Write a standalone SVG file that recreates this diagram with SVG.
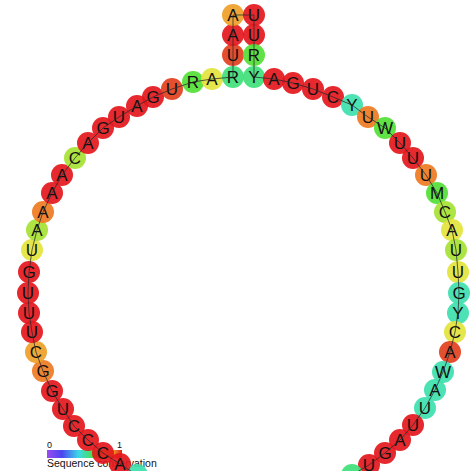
<svg xmlns="http://www.w3.org/2000/svg" width="475" height="471" viewBox="0 0 475 471">
<defs>
<linearGradient id="cons" x1="0" y1="0" x2="1" y2="0">
<stop offset="0" stop-color="#9a4cf0"/>
<stop offset="0.2" stop-color="#4a46f0"/>
<stop offset="0.42" stop-color="#3cd8e8"/>
<stop offset="0.62" stop-color="#46e046"/>
<stop offset="0.78" stop-color="#d8e030"/>
<stop offset="0.9" stop-color="#f08a24"/>
<stop offset="1" stop-color="#e41a1a"/>
</linearGradient>
</defs>
<style>
circle{stroke:none;fill-opacity:0.92}
.r{fill:#e3171c}.ro{fill:#e2401e}.o{fill:#ee7a22}.oy{fill:#eea028}.y{fill:#e2e43c}.yg{fill:#a6e234}.g{fill:#52e036}.gc{fill:#40e07a}.c{fill:#3ee0ac}
text.l{font-family:"Liberation Sans",Arial,sans-serif;font-size:17px;fill:#111;text-anchor:middle}
.leg{font-family:"Liberation Sans",Arial,sans-serif;fill:#111}
.bb{fill:none;stroke:#2a2a2a;stroke-width:0.9;stroke-opacity:0.85}
</style>
<rect width="475" height="471" fill="#fff"/>
<g id="legend">
<rect x="47" y="450" width="75" height="8" fill="url(#cons)"/>
<text class="leg" x="47" y="448" font-size="9">0</text>
<text class="leg" x="117" y="448" font-size="9">1</text>
<text class="leg" x="47" y="467" font-size="10.5">Sequence conservation</text>
</g>
<g id="nodes">
<g id="n1"><circle class="c" cx="137" cy="475" r="11"/></g>
<g id="n2"><circle class="r" cx="120" cy="464" r="11"/><text class="l" x="120" y="470">A</text></g>
<g id="n3"><circle class="r" cx="103" cy="453" r="11"/><text class="l" x="103" y="459">C</text></g>
<g id="n4"><circle class="r" cx="88" cy="440" r="11"/><text class="l" x="88" y="446">C</text></g>
<g id="n5"><circle class="r" cx="74" cy="426" r="11"/><text class="l" x="74" y="432">C</text></g>
<g id="n6"><circle class="r" cx="63" cy="409" r="11"/><text class="l" x="63" y="415">U</text></g>
<g id="n7"><circle class="r" cx="52" cy="391" r="11"/><text class="l" x="52" y="397">G</text></g>
<g id="n8"><circle class="o" cx="43" cy="371" r="11"/><text class="l" x="43" y="377">G</text></g>
<g id="n9"><circle class="oy" cx="36" cy="352" r="11"/><text class="l" x="36" y="358">C</text></g>
<g id="n10"><circle class="r" cx="32" cy="332" r="11"/><text class="l" x="32" y="338">U</text></g>
<g id="n11"><circle class="r" cx="29" cy="313" r="11"/><text class="l" x="29" y="319">U</text></g>
<g id="n12"><circle class="r" cx="28" cy="293" r="11"/><text class="l" x="28" y="299">U</text></g>
<g id="n13"><circle class="r" cx="29" cy="272" r="11"/><text class="l" x="29" y="278">G</text></g>
<g id="n14"><circle class="y" cx="32" cy="250" r="11"/><text class="l" x="32" y="256">U</text></g>
<g id="n15"><circle class="yg" cx="37" cy="230" r="11"/><text class="l" x="37" y="236">A</text></g>
<g id="n16"><circle class="o" cx="43" cy="212" r="11"/><text class="l" x="43" y="218">A</text></g>
<g id="n17"><circle class="r" cx="52" cy="193" r="11"/><text class="l" x="52" y="199">A</text></g>
<g id="n18"><circle class="r" cx="62" cy="175" r="11"/><text class="l" x="62" y="181">A</text></g>
<g id="n19"><circle class="yg" cx="75" cy="158" r="11"/><text class="l" x="75" y="164">C</text></g>
<g id="n20"><circle class="r" cx="88" cy="143" r="11"/><text class="l" x="88" y="149">A</text></g>
<g id="n21"><circle class="r" cx="103" cy="128" r="11"/><text class="l" x="103" y="134">G</text></g>
<g id="n22"><circle class="r" cx="119" cy="117" r="11"/><text class="l" x="119" y="123">U</text></g>
<g id="n23"><circle class="r" cx="137" cy="106" r="11"/><text class="l" x="137" y="112">A</text></g>
<g id="n24"><circle class="r" cx="153" cy="97" r="11"/><text class="l" x="153" y="103">G</text></g>
<g id="n25"><circle class="ro" cx="172" cy="89" r="11"/><text class="l" x="172" y="95">U</text></g>
<g id="n26"><circle class="g" cx="193" cy="82" r="11"/><text class="l" x="193" y="88">R</text></g>
<g id="n27"><circle class="y" cx="212" cy="79" r="11"/><text class="l" x="212" y="85">A</text></g>
<g id="n28"><circle class="gc" cx="233" cy="77" r="11"/><text class="l" x="233" y="83">R</text></g>
<g id="n29"><circle class="ro" cx="233" cy="55" r="11"/><text class="l" x="233" y="61">U</text></g>
<g id="n30"><circle class="r" cx="233" cy="35" r="11"/><text class="l" x="233" y="41">A</text></g>
<g id="n31"><circle class="oy" cx="233" cy="15" r="11"/><text class="l" x="233" y="21">A</text></g>
<g id="n32"><circle class="r" cx="254" cy="15" r="11"/><text class="l" x="254" y="21">U</text></g>
<g id="n33"><circle class="r" cx="254" cy="35" r="11"/><text class="l" x="254" y="41">U</text></g>
<g id="n34"><circle class="g" cx="254" cy="55" r="11"/><text class="l" x="254" y="61">R</text></g>
<g id="n35"><circle class="gc" cx="254" cy="77" r="11"/><text class="l" x="254" y="83">Y</text></g>
<g id="n36"><circle class="r" cx="274" cy="79" r="11"/><text class="l" x="274" y="85">A</text></g>
<g id="n37"><circle class="r" cx="293" cy="83" r="11"/><text class="l" x="293" y="89">G</text></g>
<g id="n38"><circle class="r" cx="313" cy="89" r="11"/><text class="l" x="313" y="95">U</text></g>
<g id="n39"><circle class="r" cx="333" cy="97" r="11"/><text class="l" x="333" y="103">C</text></g>
<g id="n40"><circle class="c" cx="352" cy="105" r="11"/><text class="l" x="352" y="111">Y</text></g>
<g id="n41"><circle class="o" cx="368" cy="117" r="11"/><text class="l" x="368" y="123">U</text></g>
<g id="n42"><circle class="g" cx="385" cy="128" r="11"/><text class="l" x="385" y="134">W</text></g>
<g id="n43"><circle class="r" cx="400" cy="143" r="11"/><text class="l" x="400" y="149">U</text></g>
<g id="n44"><circle class="r" cx="413" cy="158" r="11"/><text class="l" x="413" y="164">U</text></g>
<g id="n45"><circle class="o" cx="426" cy="175" r="11"/><text class="l" x="426" y="181">U</text></g>
<g id="n46"><circle class="g" cx="437" cy="193" r="11"/><text class="l" x="437" y="199">M</text></g>
<g id="n47"><circle class="yg" cx="445" cy="212" r="11"/><text class="l" x="445" y="218">C</text></g>
<g id="n48"><circle class="y" cx="452" cy="230" r="11"/><text class="l" x="452" y="236">A</text></g>
<g id="n49"><circle class="yg" cx="456" cy="250" r="11"/><text class="l" x="456" y="256">U</text></g>
<g id="n50"><circle class="y" cx="458" cy="272" r="11"/><text class="l" x="458" y="278">U</text></g>
<g id="n51"><circle class="c" cx="459" cy="293" r="11"/><text class="l" x="459" y="299">G</text></g>
<g id="n52"><circle class="c" cx="458" cy="313" r="11"/><text class="l" x="458" y="319">Y</text></g>
<g id="n53"><circle class="y" cx="455" cy="332" r="11"/><text class="l" x="455" y="338">C</text></g>
<g id="n54"><circle class="ro" cx="450" cy="352" r="11"/><text class="l" x="450" y="358">A</text></g>
<g id="n55"><circle class="c" cx="443" cy="372" r="11"/><text class="l" x="443" y="378">W</text></g>
<g id="n56"><circle class="c" cx="435" cy="390" r="11"/><text class="l" x="435" y="396">A</text></g>
<g id="n57"><circle class="c" cx="425" cy="408" r="11"/><text class="l" x="425" y="414">U</text></g>
<g id="n58"><circle class="r" cx="413" cy="425" r="11"/><text class="l" x="413" y="431">U</text></g>
<g id="n59"><circle class="r" cx="400" cy="440" r="11"/><text class="l" x="400" y="446">A</text></g>
<g id="n60"><circle class="r" cx="385" cy="453" r="11"/><text class="l" x="385" y="459">G</text></g>
<g id="n61"><circle class="r" cx="369" cy="465" r="11"/><text class="l" x="369" y="471">U</text></g>
<g id="n62"><circle class="gc" cx="352" cy="475" r="11"/></g>
</g>
<g id="connectors">
<polyline class="bb" points="137,475 120,464 103,453 88,440 74,426 63,409 52,391 43,371 36,352 32,332 29,313 28,293 29,272 32,250 37,230 43,212 52,193 62,175 75,158 88,143 103,128 119,117 137,106 153,97 172,89 193,82 212,79 233,77 233,55 233,35 233,15 254,15 254,35 254,55 254,77 274,79 293,83 313,89 333,97 352,105 368,117 385,128 400,143 413,158 426,175 437,193 445,212 452,230 456,250 458,272 459,293 458,313 455,332 450,352 443,372 435,390 425,408 413,425 400,440 385,453 369,465 352,475"/>
</g>
</svg>
